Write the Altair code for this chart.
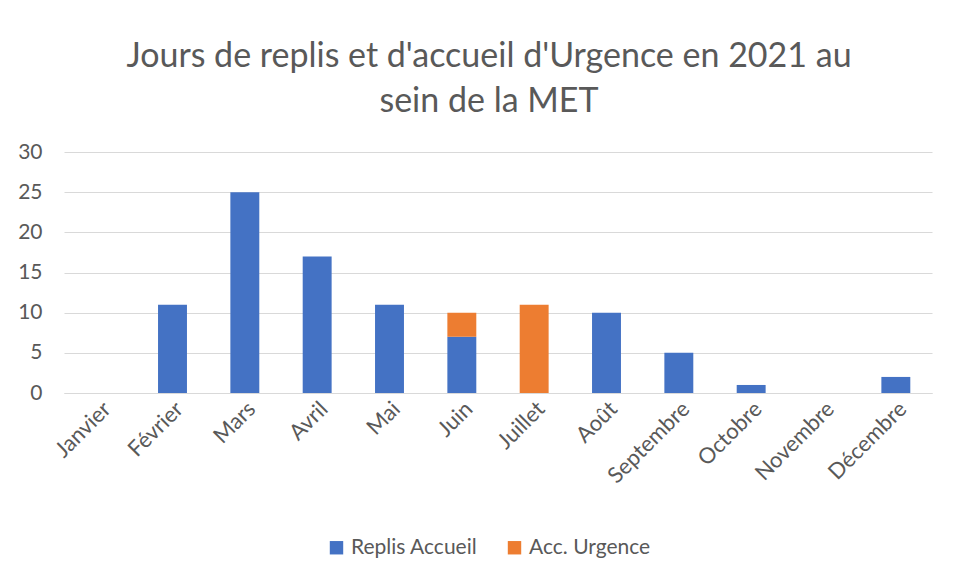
import altair as alt
import pandas as pd

months = ["Janvier", "Février", "Mars", "Avril", "Mai", "Juin", "Juillet",
          "Août", "Septembre", "Octobre", "Novembre", "Décembre"]
replis = [0, 11, 25, 17, 11, 7, 0, 10, 5, 1, 0, 2]
urgence = [0, 0, 0, 0, 0, 3, 11, 0, 0, 0, 0, 0]
series = ["Replis Accueil", "Acc. Urgence"]
colors = ["#4472C4", "#ED7D31"]

rows = []
for i, m in enumerate(months):
    rows.append({"mois": m, "serie": series[0], "ordre": 0, "jours": replis[i]})
    rows.append({"mois": m, "serie": series[1], "ordre": 1, "jours": urgence[i]})
df = pd.DataFrame(rows)

FONT = "Lato"
GRAY = "#595959"

chart = alt.Chart(df).mark_bar().encode(
    x=alt.X("mois:N", sort=months, title=None,
            scale=alt.Scale(paddingInner=0.6, paddingOuter=0.3),
            axis=alt.Axis(labelAngle=-45, labelFontSize=22, labelColor=GRAY,
                          labelFont=FONT, ticks=False, domainColor="#D9D9D9",
                          domainWidth=1, labelPadding=5)),
    y=alt.Y("jours:Q", title=None, stack="zero",
            scale=alt.Scale(domain=[0, 30]),
            axis=alt.Axis(values=[0, 5, 10, 15, 20, 25, 30], labelFontSize=21,
                          labelColor=GRAY, labelFont=FONT, ticks=False,
                          domain=False, gridColor="#D9D9D9", gridWidth=1,
                          labelPadding=22)),
    color=alt.Color("serie:N", scale=alt.Scale(domain=series, range=colors),
                    title=None,
                    legend=alt.Legend(orient="none", direction="horizontal",
                                      legendX=262, legendY=385,
                                      labelFontSize=21, labelColor=GRAY,
                                      labelFont=FONT, symbolType="square",
                                      symbolSize=180, symbolStrokeWidth=0,
                                      columnPadding=26, padding=0,
                                      labelOffset=4)),
    order=alt.Order("ordre:Q", sort="ascending"),
).properties(
    width=868,
    height=241,
    padding={"left": 56, "top": 144, "right": 16, "bottom": 178},
    autosize=alt.AutoSizeParams(type="none"),
    title=alt.TitleParams(
        ["Jours de replis et d'accueil d'Urgence en 2021 au", "sein de la MET"],
        fontSize=34, font=FONT, color=GRAY, fontWeight="normal",
        lineHeight=45, anchor="middle", dx=-9, offset=22),
).configure_view(stroke=None)

chart.save("out.html", embed_options={"renderer": "svg", "actions": False})
